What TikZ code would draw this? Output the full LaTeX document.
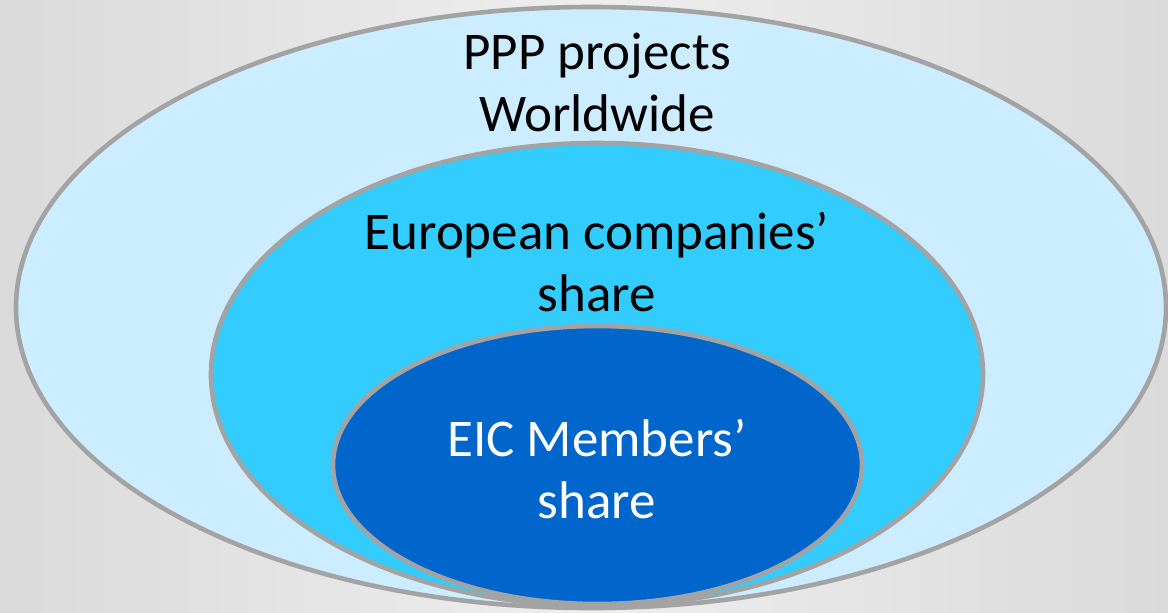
\documentclass[tikz,border=0pt]{standalone}
\usepackage{fontspec}
\setmainfont{Carlito}
\usetikzlibrary{shapes.geometric}
\definecolor{rimgray}{HTML}{A3A3A3}
\definecolor{worldblue}{HTML}{CCECFF}
\definecolor{euroblue}{HTML}{33CCFF}
\definecolor{eicblue}{HTML}{0066CC}
\definecolor{bgdark}{HTML}{C6C6C6}
\definecolor{bglight}{HTML}{EEEEEE}
\pgfdeclarehorizontalshading{bgshade}{100bp}{color(0bp)=(bgdark); color(50bp)=(bglight); color(100bp)=(bgdark)}
\tikzset{
ringnode/.style={ellipse, draw=rimgray, line width=2.3pt, inner sep=0pt, outer sep=0pt},
labelnode/.style={align=center, inner sep=0pt, font=\fontsize{26.5}{31}\selectfont}
}
\begin{document}
\begin{tikzpicture}[x=0.5pt, y=-0.5pt]

%Background
\useasboundingbox (0,0) rectangle (1168,612);
\shade[shading=bgshade] (0,0) rectangle (1168,612);

%Ellipse nodes
\node[ringnode, fill=worldblue, minimum width=575pt, minimum height=300.5pt] (world) at(591,307.5) {};
\node[ringnode, fill=euroblue, minimum width=386pt, minimum height=231.5pt] (europe) at(597,374.5) {};
\node[ringnode, fill=eicblue, minimum width=264.5pt, minimum height=139pt] (eic) at(597.5,465) {};

%Labels
\node[labelnode] (worldtext) at(597,82) {PPP projects\\Worldwide};
\node[labelnode] (europetext) at(597,262) {European companies’\\share};
\node[labelnode, text=white] (eictext) at(597,469) {EIC Members’\\share};

\end{tikzpicture}
\end{document}
